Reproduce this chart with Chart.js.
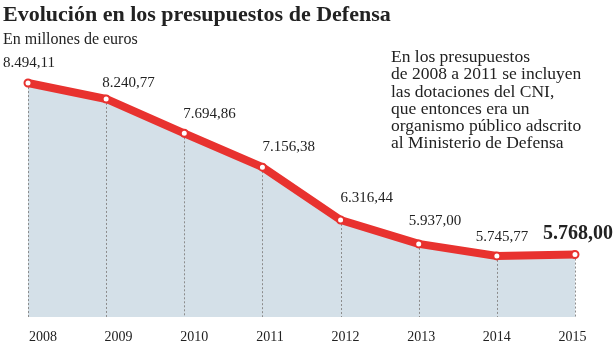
<!DOCTYPE html>
<html lang="es">
<head>
    <meta charset="UTF-8">
    <title>Evolución en los presupuestos de Defensa</title>
    <script src="https://cdn.jsdelivr.net/npm/chart.js@4.4.0/dist/chart.umd.min.js"></script>
    <style>
        body {
            margin: 0;
            background: #fff;
            font-family: "Liberation Serif", serif;
            color: #222;
        }
        .wrap {
            position: relative;
            width: 615px;
            height: 346px;
        }
        .title {
            position: absolute;
            left: 3px;
            top: 1px;
            font-size: 22px;
            font-weight: bold;
            margin: 0;
        }
        .sub {
            position: absolute;
            left: 3px;
            top: 30px;
            font-size: 16px;
        }
        .note {
            position: absolute;
            left: 391px;
            top: 48px;
            font-size: 17.5px;
            line-height: 17.3px;
        }
        #chart {
            position: absolute;
            left: 0;
            top: 0;
        }
    </style>
</head>
<body>
<div class="wrap">
    <canvas id="chart" width="615" height="346"></canvas>
    <h1 class="title">Evolución en los presupuestos de Defensa</h1>
    <div class="sub">En millones de euros</div>
    <div class="note">En los presupuestos<br>de 2008 a 2011 se incluyen<br>las dotaciones del CNI,<br>que entonces era un<br>organismo público adscrito<br>al Ministerio de Defensa</div>
</div>
<script>
    // datos
    var years = ['2008', '2009', '2010', '2011', '2012', '2013', '2014', '2015'];
    var budget = [8494.11, 8240.77, 7694.86, 7156.38, 6316.44, 5937.00, 5745.77, 5768.00];
    var valueLabels = ['8.494,11', '8.240,77', '7.694,86', '7.156,38', '6.316,44', '5.937,00', '5.745,77', '5.768,00'];

    // label offsets from each point (x start, y middle)
    var labelDx = [-25, -4, -1, 0, 0, -10, -21, -32];
    var labelDy = [-20, -16, -19, -20, -22, -23, -19, -21];

    var dropLines = {
        id: 'dropLines',
        beforeDatasetDraw: function(chart) {
            var ctx = chart.ctx;
            var meta = chart.getDatasetMeta(0);
            var bottom = chart.chartArea.bottom;
            ctx.save();
            ctx.strokeStyle = '#8c8c8c';
            ctx.lineWidth = 1;
            ctx.setLineDash([2, 2]);
            meta.data.forEach(function(pt) {
                var x = Math.round(pt.x) + 0.5;
                ctx.beginPath();
                ctx.moveTo(x, pt.y);
                ctx.lineTo(x, bottom);
                ctx.stroke();
            });
            ctx.restore();
        }
    };

    var valueText = {
        id: 'valueText',
        afterDatasetsDraw: function(chart) {
            var ctx = chart.ctx;
            var meta = chart.getDatasetMeta(0);
            ctx.save();
            ctx.fillStyle = '#222';
            ctx.textAlign = 'left';
            ctx.textBaseline = 'middle';
            meta.data.forEach(function(pt, i) {
                var last = i === meta.data.length - 1;
                ctx.font = last ? 'bold 20px "Liberation Serif"' : '15px "Liberation Serif"';
                ctx.fillText(valueLabels[i], pt.x + labelDx[i], pt.y + labelDy[i]);
            });
            ctx.restore();
        }
    };

    new Chart(document.getElementById('chart'), {
        type: 'line',
        data: {
            labels: years,
            datasets: [{
                data: budget,
                borderColor: '#e8322f',
                borderWidth: 8,
                backgroundColor: '#d4e0e8',
                fill: 'start',
                tension: 0,
                pointRadius: 3.5,
                pointBorderWidth: 2,
                pointBackgroundColor: '#fff',
                pointBorderColor: '#e8322f',
                borderJoinStyle: 'round',
                clip: false
            }]
        },
        options: {
            responsive: false,
            animation: false,
            layout: {
                padding: { left: 28, right: 40, top: 50, bottom: 0 }
            },
            plugins: {
                legend: { display: false },
                tooltip: { enabled: false }
            },
            scales: {
                x: {
                    display: false,
                    offset: false
                },
                years: {
                    type: 'linear',
                    position: 'bottom',
                    min: -0.198,
                    max: 7.033,
                    afterBuildTicks: function(axis) {
                        axis.ticks = years.map(function(y, i) { return { value: i }; });
                    },
                    afterFit: function(axis) {
                        axis.height = 29;
                    },
                    grid: { display: false, drawTicks: false },
                    border: { display: false },
                    ticks: {
                        autoSkip: false,
                        maxRotation: 0,
                        padding: 12,
                        color: '#222',
                        font: { family: 'Liberation Serif', size: 14 },
                        callback: function(v, i) { return years[i]; }
                    }
                },
                y: {
                    display: false,
                    min: 4775,
                    max: 9019
                }
            }
        },
        plugins: [dropLines, valueText]
    });
</script>
</body>
</html>
